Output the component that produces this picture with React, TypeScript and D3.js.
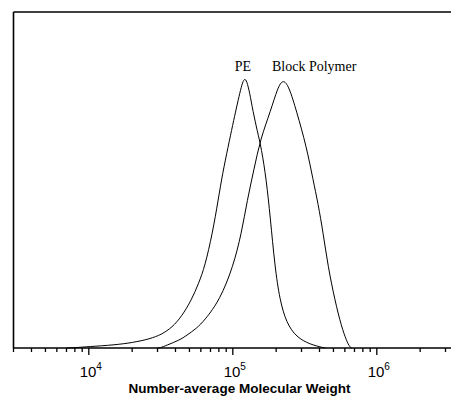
import * as d3 from 'd3';
import React from 'react';

// molecular weight (g/mol) and normalised detector response
const peMw = [7000, 8000, 10000, 15000, 20200, 26500, 32000, 38000, 44000, 51700, 58000, 63900, 72300, 79100, 85000, 92800, 100000, 106000, 112000, 117000, 121000, 125000, 131000, 138000, 148000, 158000, 171000, 182000, 196000, 212000, 236000, 277000, 343000, 424000, 440000];
const peVal = [0, 0.001, 0.004, 0.009, 0.016, 0.027, 0.04, 0.062, 0.093, 0.143, 0.193, 0.242, 0.342, 0.44, 0.52, 0.599, 0.665, 0.715, 0.76, 0.792, 0.802, 0.795, 0.76, 0.705, 0.645, 0.595, 0.5, 0.39, 0.242, 0.143, 0.074, 0.032, 0.011, 0.001, 0];

const bpMw = [30000, 31100, 34700, 42900, 47600, 55900, 63900, 81300, 100500, 115000, 126000, 140000, 156000, 183000, 205000, 223000, 245000, 277000, 325000, 361000, 391000, 424000, 459000, 511000, 569000, 616000, 650000, 670000];
const bpVal = [0, 0, 0.008, 0.024, 0.037, 0.058, 0.083, 0.143, 0.242, 0.342, 0.44, 0.53, 0.624, 0.705, 0.775, 0.8, 0.78, 0.705, 0.599, 0.5, 0.43, 0.342, 0.242, 0.143, 0.063, 0.022, 0.002, 0];

const decades = [3, 4, 5, 6];
const majorLabels = [4, 5, 6];

const W = 451, H = 396;
const left = 13.5, top = 12, bottom = 348;

const App = () => {
    const x = d3.scaleLog().domain([3000, 3.3e6]).range([left, left + 144 * Math.log10(1100)]);
    const y = d3.scaleLinear().domain([0, 1]).range([bottom, top]);

    const line = d3.line<[number, number]>()
        .x(d => x(d[0]))
        .y(d => y(d[1]))
        .curve(d3.curveBasis);

    const pe = peMw.map((m, i) => [m, peVal[i]] as [number, number]);
    const bp = bpMw.map((m, i) => [m, bpVal[i]] as [number, number]);

    // log ticks 1..9 per decade inside the domain
    const ticks: number[] = [];
    decades.forEach(d => {
        for (let k = 1; k <= 9; k++) {
            const v = k * Math.pow(10, d);
            if (v >= 3000 && v <= 3.3e6) ticks.push(v);
        }
    });

    return (
        <svg width={W} height={H} style={{ position: 'absolute', left: 0, top: 0, background: '#fff' }}>
            <g fill="none" stroke="#000" strokeWidth={1}>
                <path d={line(pe) || ''} />
                <path d={line(bp) || ''} />
            </g>
            {/* frame */}
            <line x1={left} x2={W} y1={top} y2={top} stroke="#000" strokeWidth={1.6} />
            <line x1={left} x2={left} y1={top} y2={bottom} stroke="#000" strokeWidth={1.6} />
            <line x1={left} x2={W} y1={bottom} y2={bottom} stroke="#000" strokeWidth={1.6} />
            {ticks.map((t, i) => {
                const major = Math.abs(Math.log10(t) % 1) < 1e-9;
                return <line key={i} x1={x(t)} x2={x(t)} y1={bottom} y2={bottom + (major ? 7 : 4)} stroke="#000" strokeWidth={1.3} />;
            })}
            {majorLabels.map(e => (
                <text key={e} x={x(Math.pow(10, e)) + 2} y={377} textAnchor="middle" fontFamily="Liberation Sans, Arial, sans-serif" fontSize={15}>
                    10<tspan dy={-7} fontSize={10}>{e}</tspan>
                </text>
            ))}
            <text x={239.5} y={393} textAnchor="middle" fontFamily="Liberation Sans, Arial, sans-serif" fontWeight="bold" fontSize={13.5}>
                Number-average Molecular Weight
            </text>
            <text x={243} y={71} textAnchor="middle" fontFamily="Liberation Serif, Times New Roman, serif" fontSize={14}>PE</text>
            <text x={272} y={71} fontFamily="Liberation Serif, Times New Roman, serif" fontSize={14}>Block Polymer</text>
        </svg>
    );
};

export default App;
